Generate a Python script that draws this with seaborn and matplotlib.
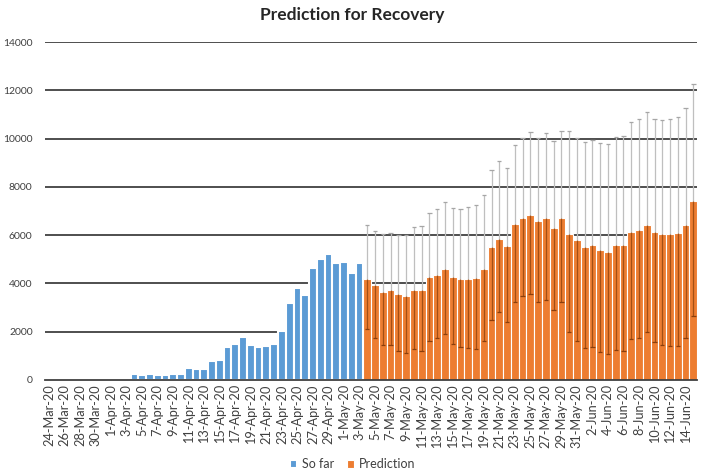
import matplotlib
matplotlib.use("Agg")
import matplotlib.pyplot as plt
import matplotlib.colors as mcolors
import seaborn as sns
import pandas as pd
import numpy as np

# ---- data ----
dates = pd.date_range("2020-03-24", "2020-06-15", freq="D")
date_labels = [f"{d.day}-{d.strftime('%b')}-20" for d in dates]

so_far = [0, 0, 0, 0, 0, 0, 0, 0, 0, 0, 0,
          240, 200, 240, 200, 200, 240, 240, 490, 460, 460,
          800, 840, 1350, 1490, 1780, 1450, 1380, 1420, 1490, 2010,
          3200, 3830, 3510, 4640, 5000, 5210, 4840, 4900, 4450, 4860]

prediction = [4190, 3950, 3640, 3710, 3550, 3480, 3710, 3710, 4250, 4330,
              4610, 4250, 4180, 4180, 4220, 4580, 5500, 5860, 5530, 6460,
              6710, 6850, 6570, 6700, 6300, 6700, 6050, 5780, 5500, 5610,
              5400, 5320, 5600, 5600, 6120, 6230, 6440, 6150, 6050, 6050,
              6090, 6440, 7400]

pred_lower = [2130, 1760, 1440, 1440, 1200, 1100, 1270, 1200, 1620, 1720,
              1900, 1510, 1380, 1320, 1280, 1620, 2500, 2800, 2410, 3230,
              3480, 3550, 3230, 3330, 2890, 3220, 1970, 1620, 1310, 1380,
              1140, 1060, 1240, 1200, 1680, 1760, 1970, 1580, 1470, 1420,
              1420, 1750, 2650]

pred_upper = [6410, 6170, 6040, 6100, 6020, 6000, 6350, 6390, 6930, 7100,
              7380, 7130, 7100, 7170, 7240, 7660, 8690, 9080, 8790, 9730,
              10040, 10280, 10040, 10240, 9890, 10300, 10300, 10040, 9860, 9930,
              9820, 9770, 10070, 10100, 10690, 10830, 11100, 10830, 10760, 10800,
              10900, 11280, 12280]

series_names = ["So far", "Prediction"]
colors = {"So far": "#5B9BD5", "Prediction": "#ED7D31"}

n_sofar = len(so_far)
df = pd.DataFrame({
    "date": date_labels,
    "value": so_far + prediction,
    "series": [series_names[0]] * n_sofar + [series_names[1]] * len(prediction),
})

# ---- plot ----
sns.set_style("white")
plt.rcParams["font.family"] = ["Lato", "DejaVu Sans"]

fig = plt.figure(figsize=(7.05, 4.70), dpi=100)
ax = fig.add_axes([0.064, 0.1915, 0.925, 0.7191])

sns.barplot(data=df, x="date", y="value", hue="series", order=date_labels,
            hue_order=series_names, palette=colors, dodge=False,
            width=1.0, saturation=1, edgecolor="white", linewidth=0.8,
            ax=ax, legend=True)

blue_rgb = mcolors.to_rgb(colors["So far"])
for p in ax.patches:
    if np.allclose(p.get_facecolor()[:3], blue_rgb, atol=0.01):
        p.set_linewidth(1.5)

# error bars for prediction
xp = np.arange(n_sofar, n_sofar + len(prediction))
pv = np.array(prediction)
pu = np.array(pred_upper)
pl = np.array(pred_lower)
cap = 0.28
ax.vlines(xp, pv, pu, color="#BFBFBF", lw=0.9, zorder=3)
ax.hlines(pu, xp - cap, xp + cap, color="#A6A6A6", lw=0.9, zorder=3)
ax.vlines(xp, pl, pv, color="#A34F14", lw=0.9, zorder=3)
ax.hlines(pl, xp - cap, xp + cap, color="#8A3E0C", lw=0.9, zorder=3)

ax.set_ylim(0, 14000)
ax.set_xlim(-0.5, len(date_labels) - 0.5)
ax.set_yticks(range(0, 14001, 2000))
ax.yaxis.grid(True, color="#404040", lw=1.3)
ax.set_axisbelow(True)
for s in ["top", "right", "left"]:
    ax.spines[s].set_visible(False)
ax.spines["bottom"].set_color("#404040")
ax.spines["bottom"].set_linewidth(1.3)

ax.set_xticks(range(0, len(date_labels), 2))
ax.set_xticklabels(date_labels[::2], rotation=90, fontsize=9.2, color="#404040")
ax.tick_params(axis="x", length=0, pad=3)
ax.tick_params(axis="y", length=0, pad=9, labelsize=7.5, labelcolor="#404040")
ax.set_xlabel("")
ax.set_ylabel("")

fig.suptitle("Prediction for Recovery", x=0.5, y=0.985, fontsize=12.5,
             fontweight="bold", color="#262626")

handles, labels = ax.get_legend_handles_labels()
ax.legend_.remove()
fig.legend(handles, labels, loc="lower center", bbox_to_anchor=(0.5, -0.025),
           ncol=2, frameon=False, fontsize=9, handlelength=0.55,
           handleheight=0.55, handletextpad=0.4, columnspacing=1.0,
           labelcolor="#404040")

fig.savefig("out.png", dpi=100)
